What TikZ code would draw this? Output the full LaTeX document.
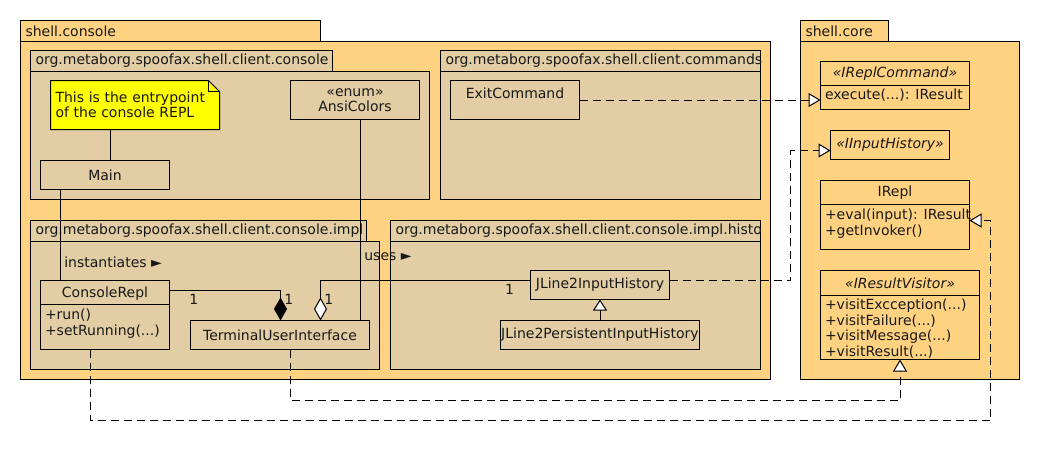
\documentclass[tikz,border=0pt]{standalone}
\usepackage{fontspec}
\setmainfont{DejaVu Sans}
\usetikzlibrary{calc,arrows.meta}

\definecolor{outerFill}{HTML}{FFD282}
\definecolor{innerFill}{HTML}{E2CDA4}
\definecolor{noteFill}{HTML}{FFFF00}

\begin{document}
\begin{tikzpicture}[x=1pt, y=-1pt, line width=1pt,
  every node/.style={font=\fontsize{14}{15.5}\selectfont, text=black!90},
  pkg/.style 2 args={draw, anchor=north west, inner sep=0pt, outer sep=0pt, minimum width=#1, minimum height=#2},
  tab/.style={draw, anchor=south west, inner xsep=5pt, inner ysep=0pt, outer sep=0pt, minimum height=21pt, text width=#1, align=left},
  cls/.style 2 args={draw, anchor=north west, inner sep=0pt, outer sep=0pt, minimum width=#1, minimum height=#2, align=center},
  ops/.style={anchor=north west, inner sep=0pt, align=left},
  implements/.style={dash pattern=on 8pt off 5pt, -{Triangle[open, length=12pt, width=14pt, fill=white]}},
  extends/.style={-{Triangle[open, length=11pt, width=14pt, fill=white]}},
  composite/.style={-{Diamond[length=23pt, width=13pt]}},
  aggreg/.style={-{Diamond[open, length=23pt, width=13pt, fill=white]}}]
  \path[use as bounding box, fill=white] (-0.5,-0.5) rectangle (1039.5,459.5);

  % Console section: packages
  \node[pkg={750}{338}, fill=outerFill] (sc) at (20,41) {};
  \node[tab=290pt, fill=outerFill] (scT) at (sc.north west) {shell.console};
  \node[pkg={399}{128}, fill=innerFill] (pCon) at (30,71) {};
  \node[tab=292pt, fill=innerFill] (pConT) at (pCon.north west) %
  {org.metaborg.spoofax.shell.client.console};
  \node[pkg={320}{128}, fill=innerFill] (pCmd) at (440,71) {};
  \begin{scope}
    \clip (439.5,49.5) rectangle (760.5,71.5);
    \node[tab=310pt, fill=innerFill] (pCmdT) at (pCmd.north west) %
    {org.metaborg.spoofax.shell.client.commands};
  \end{scope}
  \node[pkg={349}{128}, fill=innerFill] (pImpl) at (30,241) {};
  \node[tab=326pt, fill=innerFill] (pImplT) at (pImpl.north west) %
  {org.metaborg.spoofax.shell.client.console.impl};
  \node[pkg={370}{128}, fill=innerFill] (pHist) at (390,241) {};
  \begin{scope}
    \clip (389.5,219.5) rectangle (760.5,241.5);
    \node[tab=360pt, fill=innerFill] (pHistT) at (pHist.north west) %
    {org.metaborg.spoofax.shell.client.console.impl.history};
  \end{scope}

  % Core section: package
  \node[pkg={219}{338}, fill=outerFill] (core) at (800,41) {};
  \node[tab=78pt, fill=outerFill] (coreT) at (core.north west) {shell.core};

  % Console section: nodes
  \draw[fill=noteFill] (50,80) -- (208,80) -- (219,91) -- (219,129) -- (50,129) -- cycle;
  \draw (208,80) |- (219,91);
  \node[anchor=north west, inner sep=0pt, outer sep=0pt, minimum width=169, minimum height=49, %
  text width=159pt, align=left] (note) at (50,80) %
  {This is the entrypoint\\of the console REPL};
  \node[cls={129}{39}] (AC) at (290,80) {«enum»\\AnsiColors};
  \node[cls={129}{29}] (Main) at (40,160) {Main};
  \node[cls={129}{39}] (EC) at (450,80) {};
  \node (ECname) at ($(EC.north)+(0,13)$) {ExitCommand};

  \node[cls={129}{69}] (CR) at (40,280) {};
  \node (CRname) at ($(CR.north)+(0,13)$) {ConsoleRepl};
  \draw ($(CR.north west)+(0,24)$) -- ($(CR.north east)+(0,24)$);
  \node[ops] (CRops) at ($(CR.north west)+(4,28)$) {+run()\\+setRunning(...)};
  \node[cls={179}{29}] (TUI) at (190,320) {TerminalUserInterface};
  \node[cls={139}{29}] (JL) at (530,270) {JLine2InputHistory};
  \node[cls={199}{29}] (JLP) at (500,320) {JLine2PersistentInputHistory};

  % Core section: nodes
  \node[cls={149}{48}] (IRC) at (820,61) {};
  \node (IRCname) at ($(IRC.north)+(0,12)$) {\textit{«IReplCommand»}};
  \draw ($(IRC.north west)+(0,24)$) -- ($(IRC.north east)+(0,24)$);
  \node[ops] (IRCops) at ($(IRC.north west)+(4,27)$) {execute(...): IResult};
  \node[cls={119}{29}] (IIH) at (830,130) {\textit{«IInputHistory»}};

  \node[cls={149}{69}] (IR) at (820,180) {};
  \node (IRname) at ($(IR.north)+(0,12)$) {IRepl};
  \draw ($(IR.north west)+(0,24)$) -- ($(IR.north east)+(0,24)$);
  \node[ops] (IRops) at ($(IR.north west)+(4,28)$) {+eval(input): IResult\\+getInvoker()};

  \node[cls={159}{89}] (IRV) at (820,270) {};
  \node (IRVname) at ($(IRV.north)+(0,13)$) {\textit{«IResultVisitor»}};
  \draw ($(IRV.north west)+(0,25)$) -- ($(IRV.north east)+(0,25)$);
  \node[ops] (IRVops) at ($(IRV.north west)+(4,28)$) %
  {+visitExcception(...)\\+visitFailure(...)\\+visitMessage(...)\\+visitResult(...)};

  % Console section: connections
  \draw ([xshift=60pt]note.south west) -- ([xshift=70pt]Main.north west);
  \draw ([xshift=20pt]Main.south west) -- ([xshift=20pt]CR.north west) %
  node[pos=0.8, right] (instL) {instantiates ►};
  \draw ([xshift=70pt]AC.south west) -- ([xshift=170pt]TUI.north west) %
  node[pos=0.68, right] (usesL) {uses ►};
  \draw[composite] ([yshift=-10pt]CR.north east) -| ([xshift=90pt]TUI.north west) %
  node[pos=0.11, below] (m1) {1} node[pos=0.65, right] (m2) {1};
  \draw[aggreg] ([yshift=-10pt]JL.north west) -| ([xshift=130pt]TUI.north west) %
  node[pos=0.05, below] (m4) {1} node[pos=0.74, right] (m3) {1};
  \draw[extends] (JLP.north) -- (JL.south);

  % Inter section: connections
  \draw[implements] (EC.east) -- (EC.east -| IRC.west);
  \draw[implements] ([yshift=-10pt]JL.north east) -| ($(IIH.north west)+(-40,20)$) %
  -- ([yshift=-20pt]IIH.north west);
  \draw[implements] ([xshift=100pt]TUI.south west) |- ($(IRV.south)+(0,41)$) -- (IRV.south);
  \draw[implements] ([xshift=50pt]CR.south west) |- ($(IR.north east)+(21,240)$) %
  |- ([yshift=-40pt]IR.north east);
\end{tikzpicture}
\end{document}
